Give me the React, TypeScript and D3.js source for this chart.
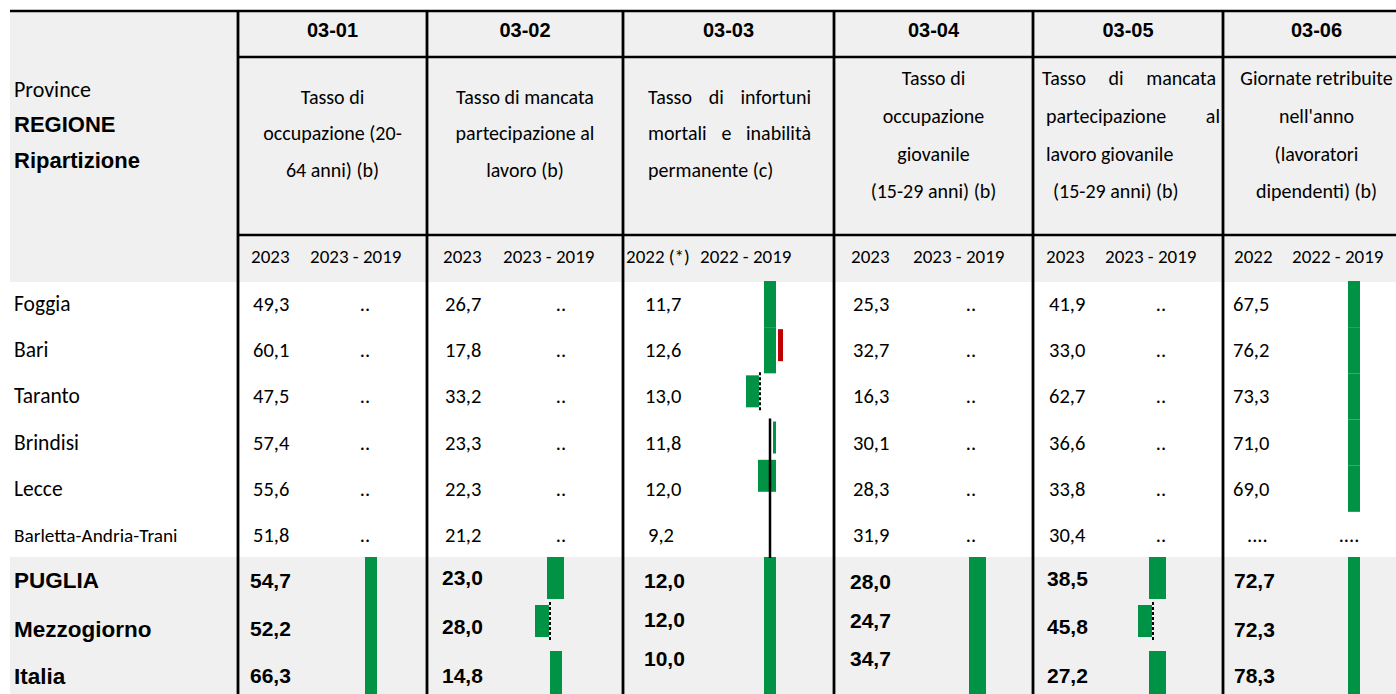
import React, { useMemo } from "react";
import * as d3 from "d3";

// ---------- DATA ----------
const codes = ["03-01", "03-02", "03-03", "03-04", "03-05", "03-06"];

const descriptions: string[][] = [
  ["Tasso di", "occupazione (20-", "64 anni) (b)"],
  ["Tasso di mancata", "partecipazione al", "lavoro (b)"],
  ["Tasso di infortuni", "mortali e inabilità", "permanente (c)"],
  ["Tasso di", "occupazione", "giovanile", "(15-29 anni) (b)"],
  ["Tasso di mancata", "partecipazione al", "lavoro giovanile", "(15-29 anni) (b)"],
  ["Giornate retribuite", "nell'anno", "(lavoratori", "dipendenti) (b)"],
];

const yearLabels: string[][] = [
  ["2023", "2023 - 2019"],
  ["2023", "2023 - 2019"],
  ["2022 (*)", "2022 - 2019"],
  ["2023", "2023 - 2019"],
  ["2023", "2023 - 2019"],
  ["2022", "2022 - 2019"],
];

const rowLabels = [
  "Foggia", "Bari", "Taranto", "Brindisi", "Lecce", "Barletta-Andria-Trani",
  "PUGLIA", "Mezzogiorno", "Italia",
];

const val0301 = [49.3, 60.1, 47.5, 57.4, 55.6, 51.8, 54.7, 52.2, 66.3];
const val0302 = [26.7, 17.8, 33.2, 23.3, 22.3, 21.2, 23.0, 28.0, 14.8];
const val0303 = [11.7, 12.6, 13.0, 11.8, 12.0, 9.2, 12.0, 12.0, 10.0];
const val0304 = [25.3, 32.7, 16.3, 30.1, 28.3, 31.9, 28.0, 24.7, 34.7];
const val0305 = [41.9, 33.0, 62.7, 36.6, 33.8, 30.4, 38.5, 45.8, 27.2];
const val0306: (number | null)[] = [67.5, 76.2, 73.3, 71.0, 69.0, null, 72.7, 72.3, 78.3];

// change bars (lo, hi) in points of change; worse = red
type Bar = { row: number; lo: number; hi: number; worse?: boolean };
const chg0301: Bar[] = [
  { row: 6, lo: 0, hi: 2.4 }, { row: 7, lo: 0, hi: 2.4 }, { row: 8, lo: 0, hi: 2.4 },
];
const chg0302: Bar[] = [
  { row: 6, lo: -0.4, hi: 3.0 }, { row: 7, lo: -2.8, hi: 0 }, { row: 8, lo: 0.2, hi: 2.6 },
];
const chg0303: Bar[] = [
  { row: 0, lo: -1.2, hi: 1.2 }, { row: 1, lo: -1.2, hi: 1.2 },
  { row: 1, lo: 1.6, hi: 2.6, worse: true },
  { row: 2, lo: -4.8, hi: -2.2 }, { row: 3, lo: 0.6, hi: 1.2 }, { row: 4, lo: -2.4, hi: 1.2 },
  { row: 6, lo: -1.2, hi: 1.2 }, { row: 7, lo: -1.2, hi: 1.2 }, { row: 8, lo: -1.2, hi: 1.2 },
];
const chg0304: Bar[] = [
  { row: 6, lo: 0, hi: 3.4 }, { row: 7, lo: 0, hi: 3.4 }, { row: 8, lo: 0, hi: 3.4 },
];
const chg0305: Bar[] = [
  { row: 6, lo: -0.6, hi: 2.8 }, { row: 7, lo: -2.8, hi: 0 }, { row: 8, lo: -0.6, hi: 2.8 },
];
const chg0306: Bar[] = [
  { row: 0, lo: 0, hi: 2.4 }, { row: 1, lo: 0, hi: 2.4 }, { row: 2, lo: 0, hi: 2.4 },
  { row: 3, lo: 0, hi: 2.4 }, { row: 4, lo: 0, hi: 2.4 },
  { row: 6, lo: 0, hi: 2.4 }, { row: 7, lo: 0, hi: 2.4 }, { row: 8, lo: 0, hi: 2.4 },
];

const values = [val0301, val0302, val0303, val0304, val0305, val0306];
const changes = [chg0301, chg0302, chg0303, chg0304, chg0305, chg0306];

// ---------- LAYOUT ----------
const W = 1396;
const H = 694;
const CAL = "Carlito, Lato, 'Open Sans', sans-serif";
const ARI = "'Liberation Sans', Arial, Helvetica, sans-serif";
const GREEN = "#009245";
const RED = "#c00000";
const GREY = "#f0f0f0";
const DESC_FS = 20;
const VAL_FS = 20.5;
const NAME_FS = 21.5;
const BOLD_FS = 21;

const colEdges = [238, 427, 623, 834, 1033, 1223, 1410];
const valX = [253, 445, 645, 853, 1049, 1233];
const sumValX = [250, 442, 644, 850, 1047, 1234];
const chgTextX = [365, 561, 0, 971, 1161, 1349];
const yearX = [[251, 310], [443, 503], [626, 700], [851, 913], [1046, 1105], [1234, 1292]];
const axisX = [365, 549, 770, 969, 1152, 1348];
const descY = [[97, 133, 170], [97, 133, 170], [97, 133, 170], [78, 116, 154, 191], [78, 116, 154, 191], [78, 116, 154, 191]];
const justified: ([number, number] | null)[] = [null, null, [648, 811], null, [1042, 1216], null];
const sumY = [
  [580, 628, 675], [577, 626, 675], [580, 619, 658],
  [581, 620, 658], [578, 626, 675], [580, 629, 675],
];
const sumLabelY = [580, 629, 676];
const sumBands = [557, 603, 651, 694];
const shortBars = new Set(["1-7", "2-1-w", "2-2", "2-3", "2-4", "4-7"]);

const fmt = (v: number) => v.toFixed(1).replace(".", ",");

let _ctx: CanvasRenderingContext2D | null = null;
function measure(text: string, font: string) {
  if (!_ctx) _ctx = document.createElement("canvas").getContext("2d");
  if (!_ctx) return text.length * 8;
  _ctx.font = font;
  return _ctx.measureText(text).width;
}

export default function App() {
  const descFont = `${DESC_FS}px ${CAL}`;
  const bodyY = d3.scaleLinear().domain([0, 5]).range([304, 535]);
  const bodyBand = d3.scaleLinear().domain([0, 6]).range([281, 558]);

  const justifiedWords = useMemo(() => {
    return descriptions.map((lines, ci) => {
      const j = justified[ci];
      if (!j) return null;
      return lines.map((line, li) => {
        const words = line.split(" ");
        const last = li === lines.length - 1 || words.length < 2 || (ci === 4 && li >= 2);
        const widths = words.map((w) => measure(w, descFont));
        const total = d3.sum(widths);
        const gap = last ? measure(" ", descFont) : (j[1] - j[0] - total) / (words.length - 1);
        let x = j[0] + (ci === 4 && li === 3 ? 11 : 0) + (ci === 4 && (li === 1 || li === 2) ? 4 : 0);
        return words.map((w, k) => {
          const pos = x;
          x += widths[k] + gap;
          return { w, x: pos };
        });
      });
    });
  }, []);

  return (
    <svg
      width={W}
      height={H}
      viewBox={`0 0 ${W} ${H}`}
      style={{ position: "fixed", left: 0, top: 0, display: "block", background: "#fff" }}
    >
      {/* backgrounds */}
      <rect x={10} y={12} width={W - 10} height={270} fill={GREY} />
      <rect x={10} y={557} width={W - 10} height={H - 557} fill={GREY} />

      {/* first column header */}
      <text x={14} y={89} dominantBaseline="central" fontFamily={CAL} fontSize={22} fill="#000">Province</text>
      <text x={14} y={124} dominantBaseline="central" fontFamily={ARI} fontWeight="bold" fontSize={22} fill="#000">REGIONE</text>
      <text x={14} y={160} dominantBaseline="central" fontFamily={ARI} fontWeight="bold" fontSize={22} fill="#000">Ripartizione</text>

      {/* row labels */}
      {rowLabels.map((lab, i) =>
        i < 6 ? (
          <text key={lab} x={14} y={bodyY(i)} dominantBaseline="central" fontFamily={CAL} fontSize={i === 5 ? 19.3 : NAME_FS} fill="#000">{lab}</text>
        ) : (
          <text key={lab} x={14} y={sumLabelY[i - 6]} dominantBaseline="central" fontFamily={ARI} fontWeight="bold" fontSize={22.5} fill="#000">{lab}</text>
        )
      )}

      {codes.map((code, ci) => {
        const x0 = colEdges[ci];
        const x1 = colEdges[ci + 1];
        const cx = (x0 + x1) / 2;
        const xs = d3.scaleLinear().domain([0, 1]).range([axisX[ci], axisX[ci] + 5]);
        const vals = values[ci];
        return (
          <g key={code}>
            <text x={cx} y={30} textAnchor="middle" dominantBaseline="central" fontFamily={ARI} fontWeight="bold" fontSize={20} fill="#000">{code}</text>
            {descriptions[ci].map((line, li) => {
              const jw = justifiedWords[ci];
              if (jw) {
                return jw[li].map((wd, k) => (
                  <text key={`${li}-${k}`} x={wd.x} y={descY[ci][li]} dominantBaseline="central" fontFamily={CAL} fontSize={DESC_FS} fill="#000">{wd.w}</text>
                ));
              }
              return (
                <text key={li} x={cx} y={descY[ci][li]} textAnchor="middle" dominantBaseline="central" fontFamily={CAL} fontSize={DESC_FS} fill="#000">{line}</text>
              );
            })}
            <text x={yearX[ci][0]} y={256} dominantBaseline="central" fontFamily={CAL} fontSize={19} fill="#000">{yearLabels[ci][0]}</text>
            <text x={yearX[ci][1]} y={256} dominantBaseline="central" fontFamily={CAL} fontSize={19} fill="#000">{yearLabels[ci][1]}</text>

            {/* bars */}
            {changes[ci].map((b, bi) => {
              const key = `${ci}-${b.row}${b.worse ? "-w" : ""}`;
              const isShort = shortBars.has(key);
              let top: number, bot: number;
              if (b.row < 6) {
                top = bodyBand(b.row);
                bot = bodyBand(b.row + 1);
              } else {
                top = sumBands[b.row - 6];
                bot = sumBands[b.row - 5];
                if ((ci === 1 || ci === 4) && b.row === 6) bot -= 4;
              }
              if (isShort) {
                top = (b.row === 4 ? bodyY(b.row) - 29 : top + 2);
                bot = top + 32;
              }
              const xa = xs(b.lo);
              const xb = xs(b.hi);
              return (
                <g key={bi}>
                  <rect x={xa} y={top} width={xb - xa} height={bot - top} fill={b.worse ? RED : GREEN} />
                  {b.hi <= 0 && (
                    <line x1={xb + 1} x2={xb + 1} y1={top - 3} y2={bot + 3} stroke="#000" strokeWidth={2} strokeDasharray="3,2" />
                  )}
                </g>
              );
            })}
            {ci === 2 && (
              <line x1={xs(0)} x2={xs(0)} y1={bodyBand(3) - 1} y2={bodyBand(6)} stroke="#000" strokeWidth={2.5} />
            )}

            {/* values */}
            {vals.map((v, ri) => {
              if (ri < 6) {
                const isNull = v === null;
                const xx = valX[ci] + (ci === 2 && (v as number) < 10 ? 3 : 0) + (isNull ? 14 : 0);
                return (
                  <text key={ri} x={xx} y={bodyY(ri)} dominantBaseline="central" fontFamily={CAL} fontSize={VAL_FS} fill="#000">
                    {isNull ? "...." : fmt(v as number)}
                  </text>
                );
              }
              return (
                <text key={ri} x={sumValX[ci]} y={sumY[ci][ri - 6]} dominantBaseline="central" fontFamily={ARI} fontWeight="bold" fontSize={BOLD_FS} fill="#000">
                  {fmt(v as number)}
                </text>
              );
            })}
            {/* ".." markers where change is not available */}
            {ci !== 2 && ci !== 5 &&
              d3.range(6).map((ri) => (
                <text key={`d${ri}`} x={chgTextX[ci]} y={bodyY(ri)} textAnchor="middle" dominantBaseline="central" fontFamily={CAL} fontSize={VAL_FS} fill="#000">..</text>
              ))}
            {ci === 5 && (
              <text x={chgTextX[ci]} y={bodyY(5)} textAnchor="middle" dominantBaseline="central" fontFamily={CAL} fontSize={VAL_FS} fill="#000">....</text>
            )}
          </g>
        );
      })}

      {/* grid lines */}
      <line x1={10} x2={W} y1={11} y2={11} stroke="#000" strokeWidth={2.5} />
      <line x1={colEdges[0]} x2={W} y1={57} y2={57} stroke="#000" strokeWidth={2.5} />
      <line x1={colEdges[0]} x2={W} y1={235} y2={235} stroke="#000" strokeWidth={2.5} />
      {colEdges.slice(0, 6).map((x) => (
        <line key={x} x1={x} x2={x} y1={10} y2={H} stroke="#000" strokeWidth={2.8} />
      ))}
    </svg>
  );
}
